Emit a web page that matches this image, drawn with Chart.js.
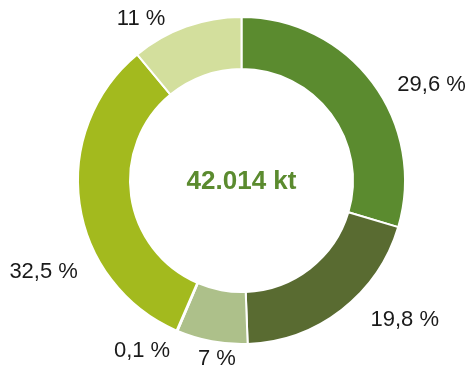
<!DOCTYPE html>
<html>
<head>
<meta charset="utf-8">
<script src="https://cdn.jsdelivr.net/npm/chart.js@4"></script>
<style>
  html, body { margin: 0; padding: 0; background: #ffffff; }
  #wrap { width: 468px; height: 367px; position: relative; }
</style>
</head>
<body>
<div id="wrap"><canvas id="chart"></canvas></div>
<script>
// Shares (%) of the total, clockwise from the top
const categories = ['Anteil A', 'Anteil B', 'Anteil C', 'Anteil D', 'Anteil E', 'Anteil F'];
const shares = [29.6, 19.8, 7, 0.1, 32.5, 11];
const sliceColors = ['#5b8b2f', '#596b31', '#adc08a', '#8fa66b', '#a3ba1e', '#d3df9d'];
const totalKt = 42014;

// Label offsets (px) from the mid-point of each slice's outer edge
const labelNudge = [[59, 2], [63, 10], [5, 18], [-35, 20], [-36, 68], [-45, -8]];

function formatShare(v) {
  return String(v).replace('.', ',') + ' %';
}
function formatTotal(v) {
  return String(v).replace(/\B(?=(\d{3})+(?!\d))/g, '.') + ' kt';
}

const sliceLabels = {
  id: 'sliceLabels',
  afterDatasetsDraw(chart) {
    const ctx = chart.ctx;
    const meta = chart.getDatasetMeta(0);
    ctx.save();
    ctx.font = '22px "Liberation Sans", Arial, sans-serif';
    ctx.fillStyle = '#1a1a1a';
    ctx.textAlign = 'center';
    ctx.textBaseline = 'middle';
    meta.data.forEach((arc, i) => {
      const p = arc.getProps(['x', 'y', 'startAngle', 'endAngle', 'outerRadius'], true);
      const mid = (p.startAngle + p.endAngle) / 2;
      const ax = p.x + Math.cos(mid) * p.outerRadius;
      const ay = p.y + Math.sin(mid) * p.outerRadius;
      const n = labelNudge[i];
      ctx.fillText(formatShare(shares[i]), ax + n[0], ay + n[1]);
    });
    // total in the hole
    const first = meta.data[0];
    ctx.font = 'bold 26px "Liberation Sans", Arial, sans-serif';
    ctx.fillStyle = '#5b8b2f';
    ctx.fillText(formatTotal(totalKt), first.x, first.y + 1);
    ctx.restore();
  }
};

new Chart(document.getElementById('chart'), {
  type: 'doughnut',
  data: {
    labels: categories,
    datasets: [{
      data: shares,
      backgroundColor: sliceColors,
      borderColor: '#ffffff',
      borderWidth: 2,
      hoverBorderWidth: 2,
      radius: 163.5,
      cutout: '68.2%'
    }]
  },
  options: {
    responsive: true,
    maintainAspectRatio: false,
    animation: false,
    layout: { padding: { left: 15, right: 0, top: 0, bottom: 6 } },
    plugins: {
      legend: { display: false },
      tooltip: { enabled: false }
    }
  },
  plugins: [sliceLabels]
});
</script>
</body>
</html>
